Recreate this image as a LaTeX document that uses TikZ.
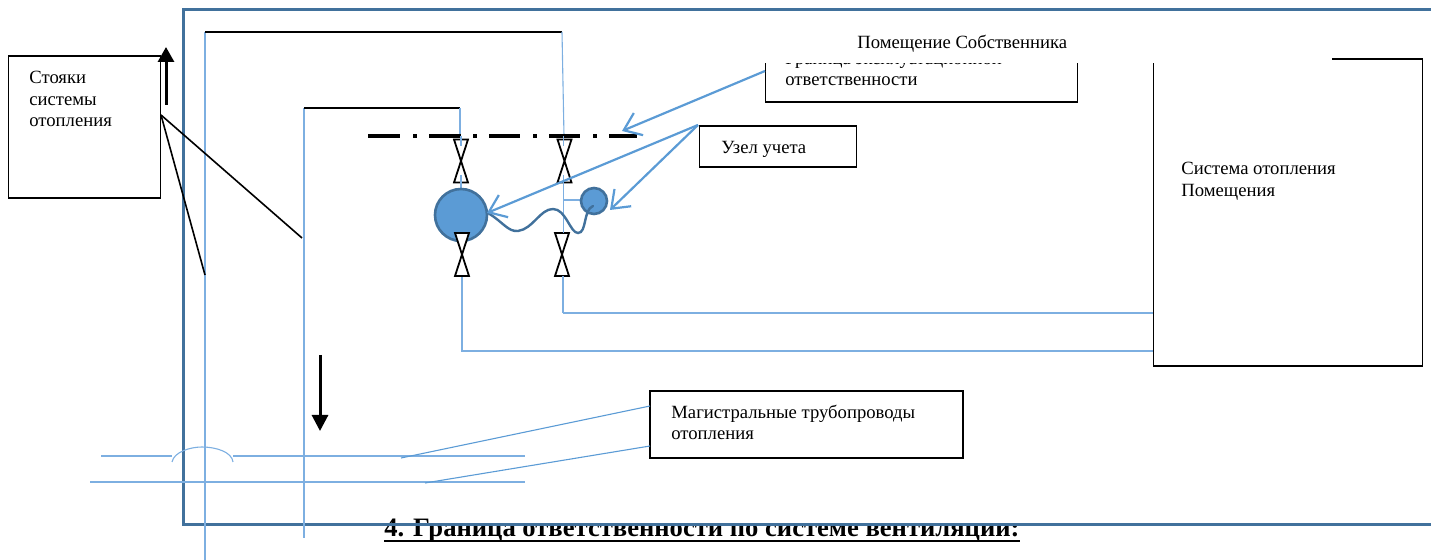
\documentclass[tikz,border=0pt]{standalone}
\usepackage{fontspec}
\setmainfont{Liberation Serif}
\usetikzlibrary{arrows.meta}
\definecolor{pipe}{RGB}{91,155,213}
\definecolor{pipel}{RGB}{125,175,225}
\definecolor{frame}{RGB}{65,113,156}
\tikzset{
  x=0.5pt,y=-0.5pt,
  pipeline/.style={draw=pipel,line width=0.55pt},
  blk/.style={draw=black,line width=0.8pt},
  box/.style={draw=black,line width=0.8pt,fill=white},
  lbl/.style={font=\fontsize{9.33}{11}\selectfont,anchor=base west,inner sep=0pt,text=black},
  callout/.style={draw=pipe,line width=1.1pt,-{Straight Barb[length=8pt,width=12pt,line width=1.1pt]}},
  valveshape/.style={draw=black,line width=0.9pt,fill=white},
}
\begin{document}
\begin{tikzpicture}
\useasboundingbox (0,0) rectangle (1431,560);
% title (under frame)
\node[font=\bfseries\fontsize{13.3}{15}\selectfont,anchor=base west,inner sep=0pt] (title) at (384,537) {4. Граница ответственности по системе вентиляции:};
\draw[line width=1.3pt] ([yshift=-2pt]title.base west) -- ([yshift=-2pt]title.base east);
% outer frame
\draw[draw=frame,line width=1.5pt] (1431,10) -- (183,10) -- (183,525) -- (1431,525);
% callout box with clipped caption
\node[box,minimum width=156pt,minimum height=30.5pt,anchor=north west,inner sep=0pt] (border) at (764.5,40) {};
\node[lbl] (borderA) at (785,65) {Граница эксплуатационной};
\node[lbl] (borderB) at (785,85.5) {ответственности};
% heating box
\node[box,anchor=north west,minimum width=134.5pt,minimum height=153.5pt,inner sep=0pt] (heat) at (1152.5,58.5) {};
\node[lbl] (heatA) at (1181,175) {Система отопления};
\node[lbl] (heatB) at (1181,197) {Помещения};
% mask
\fill[white] (755,26) rectangle (1332,63);
\node[lbl] (room) at (857,49) {Помещение Собственника};
% risers
\draw[pipeline] (205,32) -- (205,560);
\draw[pipeline] (304,108) -- (304,538);
\draw[blk] (205,32) -- (562,32);
\draw[pipeline] (562,32) -- (564,136);
\draw[blk] (304,108) -- (460,108);
\draw[pipeline] (460,108) -- (460,136);
% dash-dot boundary
\draw[line width=1.8pt,black] (368,136) -- (400,136) (413,136) -- (417,136) (429,136)--(461,136) (473,136)--(477,136) (489,136)--(520,136) (533,136)--(537,136) (549,136)--(580,136) (593,136)--(597,136) (609,136)--(637,136);
% valves
\foreach \vx/\vy in {461/139.5,564.5/139.5,562/233}{
  \draw[valveshape] (\vx-7,\vy) -- (\vx+7,\vy) -- (\vx-7,\vy+43) -- (\vx+7,\vy+43) -- cycle;
}
% vertical pipes
\draw[pipeline] (461,136) -- (461,146);
\draw[pipeline] (461,175) -- (461,190);
\draw[pipeline] (563.5,136) -- (563.5,146);
\draw[pipeline] (563.5,175) -- (563.5,233);
\draw[pipeline] (563,276) -- (563,313);
\draw[pipeline] (462,276) -- (462,351);
\draw[pipeline] (563,313) -- (1153,313);
\draw[pipeline] (461,351) -- (1153,351);
\draw[pipeline] (563,200) -- (585,200);
% meter
\node[circle,draw=frame,fill=pipe,line width=1.3pt,minimum size=26pt,inner sep=0pt] (meterA) at (461,215) {};
\node[circle,draw=frame,fill=pipe,line width=1.3pt,minimum size=13pt,inner sep=0pt] (meterB) at (594,201) {};
\draw[valveshape] (455,233) -- (469,233) -- (455,276) -- (469,276) -- cycle;
\draw[draw=frame,line width=1.2pt,line cap=round] (488,213) .. controls (503,222) and (508,232) .. (518,231) .. controls (533,229) and (540,209) .. (553,209) .. controls (566,209) and (570,233) .. (578,233) .. controls (587,233) and (583,210) .. (593,206);
% callouts
\node[box,anchor=north west,minimum width=78.5pt,minimum height=20.5pt,inner sep=0pt] (uzel) at (698.5,125) {};
\node[lbl] (uzelT) at (721,154) {Узел учета};
\coordinate (uzelTip) at (698,125);
\coordinate (tipA) at (487,213);
\coordinate (tipB) at (610,210);
\coordinate (tipC) at (622,131);
\draw[callout] (uzelTip) -- (tipA);
\draw[callout] (uzelTip) -- (tipB);
\draw[callout] (765,71) -- (tipC);
% left box
\node[box,anchor=north west,minimum width=76pt,minimum height=71pt,inner sep=0pt] (stoyak) at (7.5,55) {};
\node[lbl] (st1) at (29,83.5) {Стояки};
\node[lbl] (st2) at (29,105.5) {системы};
\node[lbl] (st3) at (29,126.5) {отопления};
\coordinate (sA) at (161,115);
\draw[blk] (sA) -- (302,238);
\draw[blk] (sA) -- (205,275);
% flow arrows
\draw[line width=1.5pt,-{Triangle[length=7.5pt,width=8pt]}] (166,105) -- (166,47);
\draw[line width=1.5pt,-{Triangle[length=8pt,width=8pt]}] (320,355) -- (320,431);
% mains
\node[box,anchor=north west,minimum width=156.5pt,minimum height=33.5pt,inner sep=0pt] (mains) at (649,390) {};
\node[lbl] (m1) at (671,419) {Магистральные трубопроводы};
\node[lbl] (m2) at (671,440) {отопления};
\draw[pipeline] (101,456) -- (172,456);
\draw[pipeline] (172,462) .. controls (174,452) and (190,447) .. (202,447) .. controls (216,447) and (232,452) .. (233,462);
\draw[pipeline] (233,456) -- (525,456);
\draw[pipeline] (90,482) -- (525,482);
\draw[draw=pipe,line width=0.55pt] (650,406) -- (401,458);
\draw[draw=pipe,line width=0.55pt] (650,446) -- (425,483);
\end{tikzpicture}
\end{document}
